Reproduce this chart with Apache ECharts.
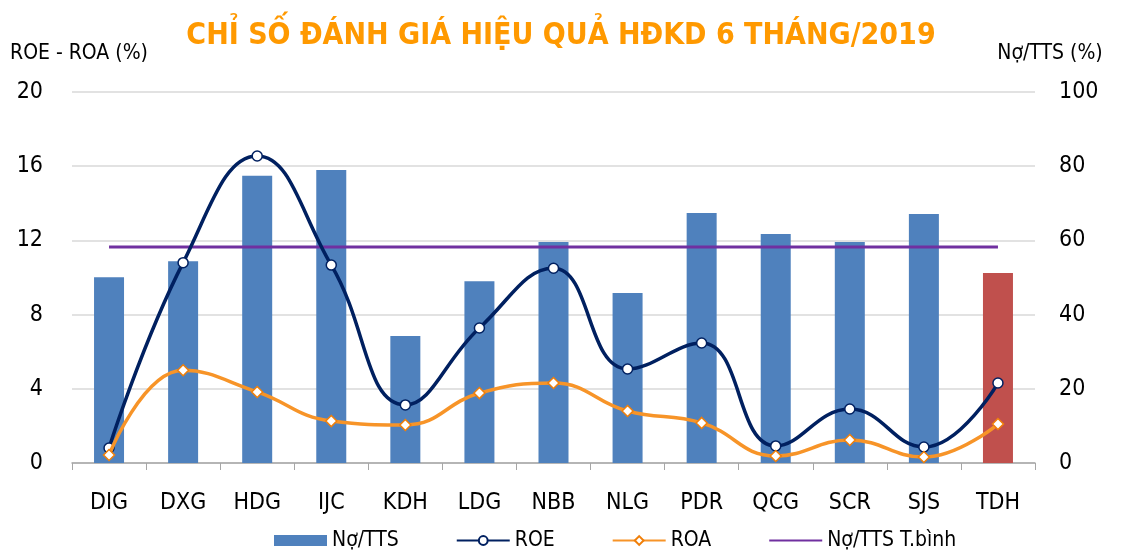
<!DOCTYPE html>
<html>
<head>
<meta charset="utf-8">
<script src="https://cdn.jsdelivr.net/npm/echarts@6/dist/echarts.min.js"></script>
<style>
  html, body { margin: 0; padding: 0; background: #fff; }
  #chart { width: 1123px; height: 552px; }
</style>
</head>
<body>
<div id="chart"></div>
<script>
// Données
const categories = ['DIG', 'DXG', 'HDG', 'IJC', 'KDH', 'LDG', 'NBB', 'NLG', 'PDR', 'QCG', 'SCR', 'SJS', 'TDH'];
const noTTS = [50.1, 54.4, 77.4, 79.0, 34.2, 49.0, 59.6, 45.8, 67.4, 61.7, 59.6, 67.1, 51.2];
const roe = [0.81, 10.8, 16.55, 10.67, 3.13, 7.28, 10.5, 5.07, 6.47, 0.92, 2.91, 0.86, 4.31];
const roa = [0.43, 5.0, 3.83, 2.26, 2.05, 3.77, 4.31, 2.8, 2.16, 0.38, 1.24, 0.32, 2.1];
const noTTSAvg = 58.2;

const FONT = '"DejaVu Sans Condensed", Tahoma, sans-serif';
const chart = echarts.init(document.getElementById('chart'), null, { renderer: 'canvas' });

const option = {
  backgroundColor: '#fff',
  animation: false,
  title: {
    text: 'CHỈ SỐ ĐÁNH GIÁ HIỆU QUẢ HĐKD 6 THÁNG/2019',
    left: 556,
    textAlign: 'center',
    top: 16,
    textStyle: { color: '#ff9900', fontSize: 30, fontWeight: 'bold', fontFamily: FONT },
  },
  grid: { left: 72, right: 88, top: 92, bottom: 89 },
  legend: {
    top: 530,
    left: 274,
    padding: 0,
    itemGap: 57,
    itemWidth: 53,
    itemHeight: 11,
    textStyle: { fontSize: 21, color: '#000', fontFamily: FONT },
    data: [
      { name: 'Nợ/TTS', icon: 'rect' },
      'ROE', 'ROA',
      { name: 'Nợ/TTS T.bình', itemStyle: { opacity: 0 } },
    ],
  },
  xAxis: {
    type: 'category',
    data: categories,
    axisLine: { lineStyle: { color: '#a6a6a6', width: 1.5 } },
    axisTick: { show: true, length: 7, lineStyle: { color: '#a6a6a6' } },
    axisLabel: { fontSize: 23, color: '#000', margin: 29, fontFamily: FONT },
  },
  yAxis: [
    {
      type: 'value',
      name: 'ROE - ROA (%)',
      nameLocation: 'end',
      nameGap: 28,
      nameTextStyle: { fontSize: 21, color: '#000', fontFamily: FONT, align: 'left', padding: [0, 0, 0, -62] },
      min: 0, max: 20, interval: 4,
      axisLine: { show: false },
      axisTick: { show: false },
      axisLabel: { fontSize: 23, color: '#000', margin: 29, fontFamily: FONT },
      splitLine: { lineStyle: { color: '#d9d9d9', width: 1.5 } },
    },
    {
      type: 'value',
      name: 'Nợ/TTS (%)',
      nameLocation: 'end',
      nameGap: 28,
      nameTextStyle: { fontSize: 21, color: '#000', fontFamily: FONT, align: 'center', padding: [0, 0, 0, 30] },
      min: 0, max: 100, interval: 20,
      axisLine: { show: false },
      axisTick: { show: false },
      axisLabel: { fontSize: 23, color: '#000', margin: 24, fontFamily: FONT },
      splitLine: { show: false },
    },
  ],
  series: [
    {
      name: 'Nợ/TTS',
      type: 'bar',
      yAxisIndex: 1,
      barWidth: 30,
      data: noTTS.map((v, i) => i === noTTS.length - 1
        ? { value: v, itemStyle: { color: '#c0504d' } }
        : v),
      itemStyle: { color: '#4f81bd' },
    },
    {
      name: 'Nợ/TTS T.bình',
      type: 'line',
      yAxisIndex: 1,
      data: categories.map(() => noTTSAvg),
      symbol: 'none',
      lineStyle: { color: '#7030a0', width: 3 },
      itemStyle: { color: '#7030a0' },
    },
    {
      name: 'ROE',
      type: 'line',
      yAxisIndex: 0,
      data: roe,
      smooth: 0.45,
      symbol: 'circle',
      symbolSize: 10,
      lineStyle: { color: '#002060', width: 3.5 },
      itemStyle: { color: '#fff', borderColor: '#002060', borderWidth: 1.5 },
      z: 4,
    },
    {
      name: 'ROA',
      type: 'line',
      yAxisIndex: 0,
      data: roa,
      smooth: 0.45,
      symbol: 'diamond',
      symbolSize: 11,
      lineStyle: { color: '#f79428', width: 3.5 },
      itemStyle: { color: '#fff', borderColor: '#f07f09', borderWidth: 1.5 },
      z: 5,
    },
  ],
};

chart.setOption(option);
</script>
</body>
</html>
